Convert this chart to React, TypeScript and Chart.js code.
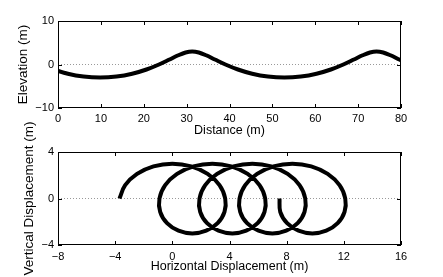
import React, { useEffect, useRef } from 'react';
import { Chart, registerables } from 'chart.js';

Chart.register(...registerables);

// Top panel: wave surface elevation along distance
const distX = [-1.03, 2.3, 5.97, 9.8, 13.64, 17.3, 20.64, 23.55, 26.01, 28.05, 29.76, 31.3, 32.84, 34.55, 36.59, 39.05, 41.97, 45.3, 48.97, 52.8, 56.64, 60.3, 63.64, 66.55, 69.01, 71.05, 72.76, 74.3, 75.84, 77.55, 79.59, 82.05];
const elevY = [-1.15, -2.12, -2.77, -3.0, -2.77, -2.12, -1.15, 0, 1.15, 2.12, 2.77, 3.0, 2.77, 2.12, 1.15, 0, -1.15, -2.12, -2.77, -3.0, -2.77, -2.12, -1.15, 0, 1.15, 2.12, 2.77, 3.0, 2.77, 2.12, 1.15, 0];

// Bottom panel: particle orbit (horizontal vs vertical displacement)
const horizX = [
  -3.7, -3.3, -2.47, -1.32, 0, 1.32, 2.47, 3.3, 3.7, 3.65, 3.17, 2.37, 1.4, 0.43, -0.37, -0.85,
  -0.9, -0.5, 0.33, 1.48, 2.8, 4.12, 5.27, 6.1, 6.5, 6.45, 5.97, 5.17, 4.2, 3.23, 2.43, 1.95,
  1.9, 2.3, 3.13, 4.28, 5.6, 6.92, 8.07, 8.9, 9.3, 9.25, 8.77, 7.97, 7.0, 6.03, 5.23, 4.75,
  4.7, 5.1, 5.93, 7.08, 8.4, 9.72, 10.87, 11.7, 12.1, 12.05, 11.57, 10.77, 9.8, 8.83, 8.03, 7.55,
  7.5,
];
const vertY = [
  0, 1.15, 2.12, 2.77, 3.0, 2.77, 2.12, 1.15, 0, -1.15, -2.12, -2.77, -3.0, -2.77, -2.12, -1.15,
  0, 1.15, 2.12, 2.77, 3.0, 2.77, 2.12, 1.15, 0, -1.15, -2.12, -2.77, -3.0, -2.77, -2.12, -1.15,
  0, 1.15, 2.12, 2.77, 3.0, 2.77, 2.12, 1.15, 0, -1.15, -2.12, -2.77, -3.0, -2.77, -2.12, -1.15,
  0, 1.15, 2.12, 2.77, 3.0, 2.77, 2.12, 1.15, 0, -1.15, -2.12, -2.77, -3.0, -2.77, -2.12, -1.15,
  0,
];

const distTicks = [0, 10, 20, 30, 40, 50, 60, 70, 80];
const elevTicks = [-10, 0, 10];
const horizTicks = [-8, -4, 0, 4, 8, 12, 16];
const vertTicks = [-4, 0, 4];

const FONT = "'Liberation Sans', Arial, Helvetica, sans-serif";

const fmt = (v: number | string) => String(v).replace('-', '\u2212');

const boxPlugin = {
  id: 'matlabBox',
  afterDraw(chart: any) {
    const { ctx, chartArea: a, scales } = chart;
    const L = 4;
    ctx.save();
    ctx.strokeStyle = '#000';
    ctx.lineWidth = 1;
    ctx.strokeRect(a.left + 0.5, a.top + 0.5, a.right - a.left - 1, a.bottom - a.top - 1);
    ctx.beginPath();
    scales.x.ticks.forEach((t: any) => {
      const px = Math.round(scales.x.getPixelForValue(t.value)) + 0.5;
      ctx.moveTo(px, a.bottom);
      ctx.lineTo(px, a.bottom - L);
      ctx.moveTo(px, a.top);
      ctx.lineTo(px, a.top + L);
    });
    scales.y.ticks.forEach((t: any) => {
      const py = Math.round(scales.y.getPixelForValue(t.value)) + 0.5;
      ctx.moveTo(a.left, py);
      ctx.lineTo(a.left + L, py);
      ctx.moveTo(a.right, py);
      ctx.lineTo(a.right - L, py);
    });
    ctx.stroke();
    ctx.restore();
  },
};

type PanelSpec = {
  xs: number[];
  ys: number[];
  xTicks: number[];
  yTicks: number[];
  xTitle: string;
  yTitle: string;
  padTop: number;
  xAxisH: number;
  xTickPad: number;
  xTitlePad: number;
  yTitlePad: number;
  monotone: boolean;
};

function buildConfig(p: PanelSpec): any {
  const xmin = p.xTicks[0];
  const xmax = p.xTicks[p.xTicks.length - 1];
  const ymin = p.yTicks[0];
  const ymax = p.yTicks[p.yTicks.length - 1];
  return {
    type: 'scatter',
    data: {
      datasets: [
        {
          data: p.xs.map((x, i) => ({ x, y: p.ys[i] })),
          showLine: true,
          borderColor: '#000',
          borderWidth: 4,
          pointRadius: 0,
          tension: p.monotone ? 0 : 0.35,
          cubicInterpolationMode: p.monotone ? 'monotone' : 'default',
          clip: 0,
        },
        {
          data: [
            { x: xmin, y: 0 },
            { x: xmax, y: 0 },
          ],
          showLine: true,
          borderColor: '#999',
          borderWidth: 1,
          borderDash: [1, 2],
          pointRadius: 0,
          clip: 0,
        },
      ],
    },
    options: {
      responsive: false,
      maintainAspectRatio: false,
      animation: false,
      events: [],
      layout: { padding: { left: 0, right: 42, top: p.padTop, bottom: 0 } },
      plugins: { legend: { display: false }, tooltip: { enabled: false } },
      scales: {
        x: {
          type: 'linear',
          min: xmin,
          max: xmax,
          grid: { display: false, drawTicks: false },
          border: { display: false },
          afterBuildTicks: (s: any) => {
            s.ticks = p.xTicks.map((v) => ({ value: v }));
          },
          afterFit: (s: any) => {
            s.height = p.xAxisH;
          },
          ticks: {
            autoSkip: false,
            maxRotation: 0,
            padding: p.xTickPad,
            color: '#000',
            font: { family: FONT, size: 11 },
            callback: (v: any) => fmt(v),
          },
          title: {
            display: true,
            text: p.xTitle,
            color: '#000',
            font: { family: FONT, size: 12.5 },
            padding: { top: 0, bottom: p.xTitlePad },
          },
        },
        y: {
          type: 'linear',
          min: ymin,
          max: ymax,
          grid: { display: false, drawTicks: false },
          border: { display: false },
          afterBuildTicks: (s: any) => {
            s.ticks = p.yTicks.map((v) => ({ value: v }));
          },
          afterFit: (s: any) => {
            s.width = 58;
          },
          ticks: {
            autoSkip: false,
            padding: 4,
            color: '#000',
            font: { family: FONT, size: 11 },
            callback: (v: any) => fmt(v),
          },
          title: {
            display: true,
            text: p.yTitle,
            color: '#000',
            font: { family: FONT, size: 13.5 },
            padding: { top: p.yTitlePad, bottom: 0 },
          },
        },
      },
    },
    plugins: [boxPlugin],
  };
}

function Panel({ spec, top, height }: { spec: PanelSpec; top: number; height: number }) {
  const ref = useRef<HTMLCanvasElement | null>(null);
  useEffect(() => {
    if (!ref.current) return;
    const chart = new Chart(ref.current, buildConfig(spec));
    return () => chart.destroy();
  }, []);
  return (
    <canvas
      ref={ref}
      width={443}
      height={height}
      style={{ position: 'absolute', left: 0, top, width: 443, height, display: 'block' }}
    />
  );
}

const topSpec: PanelSpec = {
  xs: distX,
  ys: elevY,
  xTicks: distTicks,
  yTicks: elevTicks,
  xTitle: 'Distance (m)',
  yTitle: 'Elevation (m)',
  padTop: 21,
  xAxisH: 30,
  xTickPad: 4,
  xTitlePad: 0,
  yTitlePad: 15,
  monotone: true,
};

const bottomSpec: PanelSpec = {
  xs: horizX,
  ys: vertY,
  xTicks: horizTicks,
  yTicks: vertTicks,
  xTitle: 'Horizontal Displacement (m)',
  yTitle: 'Vertical Displacement (m)',
  padTop: 42,
  xAxisH: 32,
  xTickPad: 5,
  xTitlePad: 3,
  yTitlePad: 21,
  monotone: false,
};

export default function App() {
  return (
    <div style={{ position: 'fixed', left: 0, top: 0, width: 443, height: 277, background: '#fff', overflow: 'hidden' }}>
      <Panel spec={topSpec} top={0} height={138} />
      <Panel spec={bottomSpec} top={110} height={167} />
    </div>
  );
}
